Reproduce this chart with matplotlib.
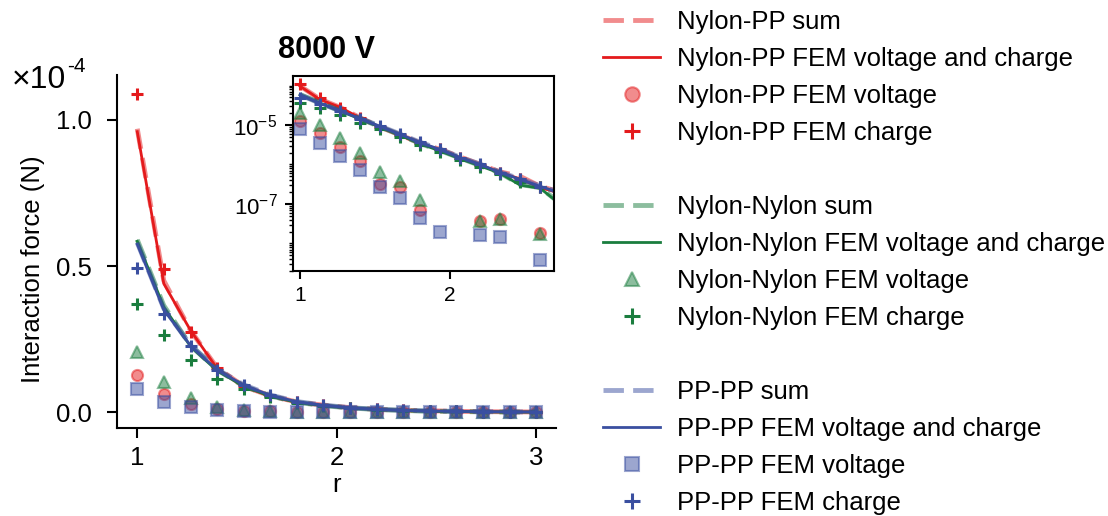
import numpy as np
import matplotlib
matplotlib.use('Agg')
from matplotlib import pyplot as plt
from matplotlib.lines import Line2D
from matplotlib.ticker import FixedLocator, LogLocator, NullFormatter, LogFormatterMathtext

plt.rcParams['font.family'] = 'Liberation Sans'
plt.rcParams['mathtext.fontset'] = 'custom'
plt.rcParams['mathtext.rm'] = 'Liberation Sans'
plt.rcParams['mathtext.it'] = 'Liberation Sans:italic'
plt.rcParams['mathtext.bf'] = 'Liberation Sans:bold'

# distance r
r = [1.0, 1.133, 1.267, 1.4, 1.533, 1.667, 1.8, 1.933, 2.067, 2.2, 2.333, 2.467, 2.6, 2.733, 2.867, 3.0]

# Nylon-PP (N)
np_sum = [9.7e-5, 4.5e-5, 2.8e-5, 1.52e-5, 8.9e-6, 5.6e-6, 3.5e-6, 2.4e-6, 1.55e-6, 1.0e-6, 6.5e-7, 5.0e-7, 2.8e-7, 2.0e-7, 1.3e-7, 9e-8]
np_fem = [9.6e-5, 4.4e-5, 2.8e-5, 1.5e-5, 8.8e-6, 5.5e-6, 3.4e-6, 2.35e-6, 1.5e-6, 9.8e-7, 6.3e-7, 4.3e-7, 2.6e-7, 1.9e-7, 1.2e-7, 8e-8]
np_volt = [1.29e-5, 6.2e-6, 2.83e-6, 1.25e-6, 3.2e-7, 2.75e-7, 7.0e-8, -2e-8, -3e-8, 3.8e-8, 4.1e-8, -2e-8, 1.8e-8, -1e-8, 1e-8, -1e-8]
np_charge = [1.09e-4, 4.9e-5, 2.75e-5, 1.5e-5, 8.8e-6, 5.5e-6, 3.4e-6, 2.4e-6, 1.49e-6, 9.7e-7, 6.2e-7, 4.2e-7, 2.64e-7, 1.7e-7, 1.1e-7, 7e-8]

# Nylon-Nylon (N)
nn_sum = [5.9e-5, 3.65e-5, 2.28e-5, 1.45e-5, 9.0e-6, 5.6e-6, 3.4e-6, 2.25e-6, 1.45e-6, 9.4e-7, 6.1e-7, 3.1e-7, 2.6e-7, 1.05e-7, 6.5e-8, 4.2e-8]
nn_fem = [5.85e-5, 3.6e-5, 2.25e-5, 1.42e-5, 8.9e-6, 5.5e-6, 3.35e-6, 2.2e-6, 1.4e-6, 9.2e-7, 6.0e-7, 3.0e-7, 2.5e-7, 1.0e-7, 6e-8, 4e-8]
nn_volt = [2.05e-5, 1.02e-5, 4.8e-6, 1.92e-6, 6.3e-7, 3.9e-7, 1.26e-7, -2e-8, -3e-8, 3.8e-8, 4.1e-8, -2e-8, 1.75e-8, -1e-8, 1e-8, -1e-8]
nn_charge = [3.7e-5, 2.64e-5, 1.8e-5, 1.15e-5, 7.9e-6, 5.1e-6, 3.1e-6, 2.1e-6, 1.3e-6, 8.8e-7, 5.75e-7, 3.5e-7, 2.64e-7, 1.7e-7, 1.1e-7, 7e-8]

# PP-PP (N)
pp_sum = [5.8e-5, 3.55e-5, 2.3e-5, 1.47e-5, 9.4e-6, 5.9e-6, 3.65e-6, 2.45e-6, 1.52e-6, 1.02e-6, 6.4e-7, 4.3e-7, 2.85e-7, 1.95e-7, 1.25e-7, 8.2e-8]
pp_fem = [5.75e-5, 3.5e-5, 2.28e-5, 1.45e-5, 9.3e-6, 5.8e-6, 3.6e-6, 2.4e-6, 1.5e-6, 1.0e-6, 6.3e-7, 4.2e-7, 2.8e-7, 1.9e-7, 1.2e-7, 8e-8]
pp_volt = [7.9e-6, 3.5e-6, 1.64e-6, 7.3e-7, 2.75e-7, 1.39e-7, 4.5e-8, 2.0e-8, -2e-8, 1.64e-8, 1.43e-8, -2e-8, 3.7e-9, -1e-8, 5e-9, -1e-8]
pp_charge = [4.95e-5, 3.35e-5, 2.25e-5, 1.45e-5, 9.3e-6, 5.8e-6, 3.6e-6, 2.4e-6, 1.49e-6, 1.01e-6, 6.2e-7, 4.2e-7, 2.75e-7, 1.8e-7, 1.15e-7, 7.5e-8]

groups = [
    ('Nylon-PP', '#e41a1c', 'o', np_sum, np_fem, np_volt, np_charge),
    ('Nylon-Nylon', '#1a7d3e', '^', nn_sum, nn_fem, nn_volt, nn_charge),
    ('PP-PP', '#3a4fa0', 's', pp_sum, pp_fem, pp_volt, pp_charge),
]

scale = 1e-4

fig = plt.figure(figsize=(11.08, 5.16), dpi=100)
ax = fig.add_axes([0.1059, 0.170, 0.3959, 0.6847])
ins = fig.add_axes([0.2642, 0.4748, 0.2358, 0.3779])


def draw(a, k):
    hs = []
    for name, c, m, s, f, v, q in groups:
        s = np.array(s) * k
        f = np.array(f) * k
        v = np.array(v) * k
        q = np.array(q) * k
        h1, = a.plot(r, s, color=c, alpha=0.5, lw=3.5, dashes=(4.2, 1.9), label=name + ' sum')
        h2, = a.plot(r, f, color=c, lw=2, label=name + ' FEM voltage and charge')
        h3, = a.plot(r, v, ls='none', marker=m, ms=8, color=c, alpha=0.5, mew=1.5,
                     label=name + ' FEM voltage')
        h4, = a.plot(r, q, ls='none', marker='+', ms=8.5, mew=2.2, color=c, label=name + ' FEM charge')
        hs.append([h1, h2, h3, h4])
    return hs


hs = draw(ax, 1 / scale)
draw(ins, 1)

# main axes
ax.set_xlim(0.9, 3.1)
ax.set_ylim(-0.055, 1.154)
ax.set_xticks([1, 2, 3])
ax.set_yticks([0, 0.5, 1.0])
ax.set_yticklabels(['0.0', '0.5', '1.0'])
ax.spines['top'].set_visible(False)
ax.spines['right'].set_visible(False)
for sp in ['left', 'bottom']:
    ax.spines[sp].set_linewidth(1.5)
ax.tick_params(labelsize=18.5, length=7, width=1.5, pad=6)
ax.tick_params(axis='y', pad=11)
ax.set_xlabel('r', fontsize=18.5, labelpad=2)
ax.set_ylabel('Interaction force (N)', fontsize=18.5)
ax.yaxis.set_label_coords(-0.165, 0.45)
fig.text(0.011, 0.829, '×10', fontsize=23, va='baseline')
fig.text(0.061, 0.860, '-4', fontsize=15, va='baseline')

# inset
ins.set_yscale('log', nonpositive='mask')
ins.set_xlim(0.951, 2.693)
ins.set_ylim(2.0e-9, 1.74e-4)
ins.set_xticks([1, 2])
ins.yaxis.set_major_locator(FixedLocator([1e-7, 1e-5]))
ins.yaxis.set_major_formatter(LogFormatterMathtext())
ins.yaxis.set_minor_locator(LogLocator(base=10, subs=np.arange(1, 10), numticks=100))
ins.yaxis.set_minor_formatter(NullFormatter())
for sp in ins.spines.values():
    sp.set_linewidth(1.5)
ins.tick_params(length=6, width=1.5, pad=5)
ins.tick_params(axis='y', labelsize=16)
ins.tick_params(axis='x', labelsize=15)
ins.tick_params(which='minor', length=3, width=1)
fig.text(0.251, 0.8876, '8000 V', fontsize=22, fontweight='bold', va='baseline')

# legend with gaps between groups
blank = Line2D([], [], alpha=0)
handles = hs[0] + [blank] + hs[1] + [blank] + hs[2]
labels = [h.get_label() for h in hs[0]] + [' '] + [h.get_label() for h in hs[1]] + [' '] + \
         [h.get_label() for h in hs[2]]
fig.legend(handles, labels, loc='upper left', bbox_to_anchor=(0.533, 1.0055), frameon=False,
           fontsize=18.5, borderpad=0, handlelength=2.2, handletextpad=0.66,
           labelspacing=0.505, markerscale=1.3)

fig.savefig('out.png', dpi=100)
